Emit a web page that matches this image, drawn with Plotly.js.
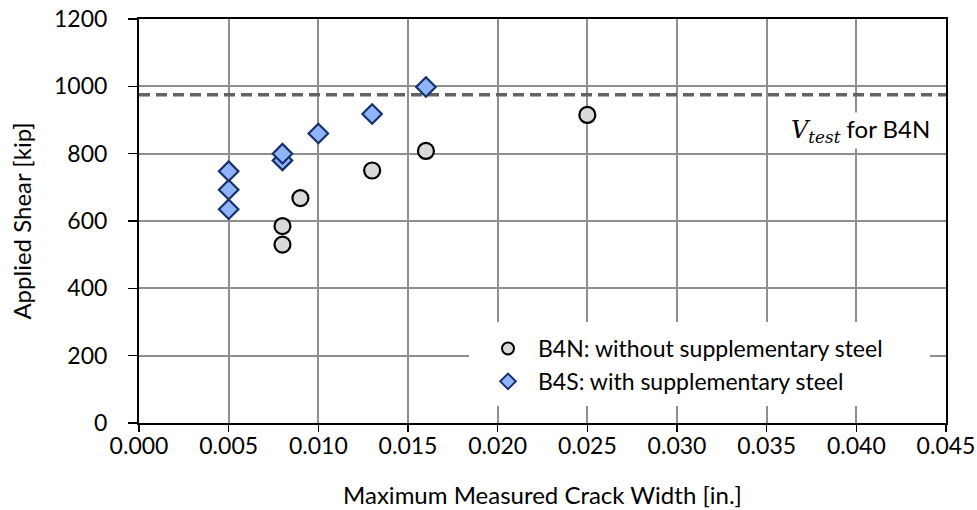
<!DOCTYPE html>
<html>
<head>
<meta charset="utf-8">
<script src="https://cdn.plot.ly/plotly-3.0.1.min.js"></script>
<style>html,body{margin:0;padding:0;background:#fff;}#chart{width:977px;height:510px;}</style>
</head>
<body>
<div id="chart"></div>
<script>
// B4N: without supplementary steel
const b4nCrack = [0.008, 0.008, 0.009, 0.013, 0.016, 0.025];
const b4nShear = [530, 585, 668, 750, 808, 915];
// B4S: with supplementary steel
const b4sCrack = [0.005, 0.005, 0.005, 0.008, 0.008, 0.010, 0.013, 0.016];
const b4sShear = [635, 693, 748, 780, 800, 860, 918, 998];
// V_test for B4N
const vTest = 975;
const vTestX = [0, 0.045];
const xTicks = [0, 0.005, 0.010, 0.015, 0.020, 0.025, 0.030, 0.035, 0.040, 0.045];
const yTicks = [0, 200, 400, 600, 800, 1000, 1200];

const FONT = 'Lato, "Open Sans", sans-serif';

const traces = [
  {
    x: vTestX, y: [vTest, vTest], type: 'scatter', mode: 'lines',
    line: {color: '#636363', width: 3.4, dash: '11px,6px'},
    showlegend: false, hoverinfo: 'skip'
  },
  {
    x: b4nCrack, y: b4nShear, type: 'scatter', mode: 'markers',
    name: 'B4N: without supplementary steel',
    marker: {symbol: 'circle', size: 16, color: '#d9d9d9', line: {color: '#000000', width: 2.2}}
  },
  {
    x: b4sCrack, y: b4sShear, type: 'scatter', mode: 'markers',
    name: 'B4S: with supplementary steel',
    marker: {symbol: 'diamond', size: 15, color: '#8fb4f8', line: {color: '#16306e', width: 2.2}}
  }
];

const layout = {
  width: 977, height: 510,
  margin: {l: 139, r: 31, t: 19, b: 87},
  paper_bgcolor: '#ffffff', plot_bgcolor: '#ffffff',
  font: {family: FONT, size: 23, color: '#000000'},
  xaxis: {
    range: [0, 0.045], tickvals: xTicks, ticktext: xTicks.map(v => v.toFixed(3)),
    tickfont: {family: FONT, size: 23},
    showgrid: true, gridcolor: '#8f8f8f', gridwidth: 2,
    showline: true, linecolor: '#000000', linewidth: 2, mirror: true,
    ticks: 'outside', ticklen: 7, tickcolor: '#000000', tickwidth: 1.5,
    ticklabelstandoff: -6,
    zeroline: false,
    title: {text: 'Maximum Measured Crack Width [in.]', font: {family: FONT, size: 24}, standoff: 30}
  },
  yaxis: {
    range: [0, 1200], tickvals: yTicks,
    tickfont: {family: FONT, size: 23},
    showgrid: true, gridcolor: '#8f8f8f', gridwidth: 2,
    showline: true, linecolor: '#000000', linewidth: 2, mirror: true,
    ticks: 'outside', ticklen: 9, tickcolor: '#000000', tickwidth: 1.5,
    ticklabelstandoff: 16,
    zeroline: false,
    title: {text: 'Applied Shear [kip]', font: {family: FONT, size: 24}, standoff: 16}
  },
  shapes: [{
    type: 'rect', xref: 'paper', yref: 'paper', layer: 'above',
    x0: (469 - 139) / 807, x1: (930 - 139) / 807,
    y0: (423 - 406) / 404, y1: (423 - 322) / 404,
    fillcolor: '#ffffff', line: {width: 0}
  }],
  legend: {
    x: (478 - 139) / 807, xanchor: 'left', y: (423 - 327) / 404, yanchor: 'top',
    bgcolor: 'rgba(0,0,0,0)', borderwidth: 0,
    font: {family: FONT, size: 23},
    itemwidth: 50, tracegroupgap: 0, itemsizing: 'constant'
  },
  annotations: [{
    x: 0.0442, y: 868, xref: 'x', yref: 'y', xanchor: 'right', yanchor: 'middle',
    showarrow: false, bgcolor: '#ffffff',
    text: '<span style="font-family:\'DejaVu Serif\',serif;font-style:italic">V<sub>test</sub></span> for B4N',
    font: {family: FONT, size: 24, color: '#000000'}
  }],
  showlegend: true
};

Plotly.newPlot('chart', traces, layout, {displayModeBar: false, staticPlot: true});
</script>
</body>
</html>
